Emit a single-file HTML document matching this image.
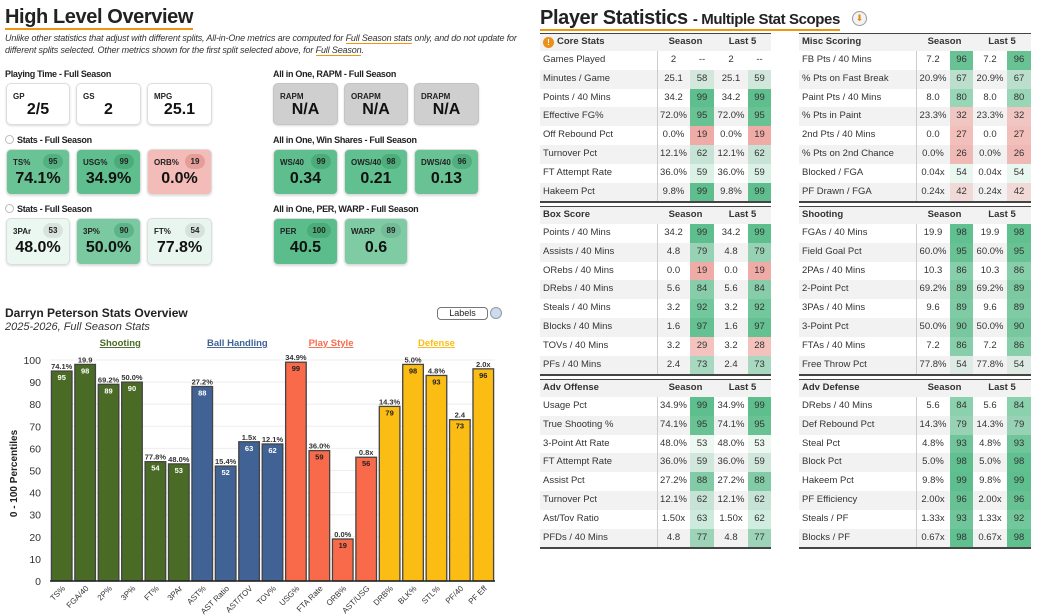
<!DOCTYPE html>
<html><head><meta charset="utf-8">
<style>
*{box-sizing:border-box;margin:0;padding:0}
body{width:1037px;height:615px;background:#fff;font-family:"Liberation Sans",sans-serif;color:#222;position:relative;overflow:hidden}
.abs{position:absolute}
.h1{font-size:20px;font-weight:bold;color:#222;letter-spacing:-0.4px}
.ul{border-bottom:2px solid #f0960e}
.note{font-size:9px;font-style:italic;color:#333;line-height:12px;letter-spacing:-0.15px}
.sec{font-size:9px;font-weight:bold;color:#222;letter-spacing:-0.3px}
.card{position:absolute;border:1px solid #ddd;border-radius:5px;box-shadow:0 1px 2px rgba(0,0,0,.15);background:#fff}
.card .lb{position:absolute;left:6px;top:8px;font-size:8px;font-weight:bold;color:#222}
.card .v{position:absolute;left:0;right:0;text-align:center;font-size:16px;font-weight:bold;color:#111}
.card .bd{position:absolute;right:6px;top:4px;width:20px;height:15px;border-radius:8px;font-size:8px;font-weight:bold;text-align:center;line-height:15px;color:#222}
.radio{display:inline-block;width:9px;height:9px;border:1px solid #bbb;border-radius:50%;vertical-align:-1px;margin-right:3px}
.tcell{position:absolute;font-size:9.5px;line-height:18.8px;color:#333;white-space:nowrap}
</style></head><body>
<div class="abs h1" style="left:5px;top:6px"><span class="ul">High Level Overview</span></div>
<div class="abs note" style="left:5px;top:32px;width:525px">Unlike other statistics that adjust with different splits, All-in-One metrics are computed for <span class="ul" style="border-width:1.5px">Full Season stats</span> only, and do not update for different splits selected. Other metrics shown for the first split selected above, for <span class="ul" style="border-width:1.5px">Full Season</span>.</div>

<div class="abs sec" style="left:5px;top:69px">Playing Time - Full Season</div>
<div class="abs sec" style="left:5px;top:135px"><span class="radio"></span>Stats - Full Season</div>
<div class="abs sec" style="left:5px;top:204px"><span class="radio"></span>Stats - Full Season</div>
<div class="abs sec" style="left:273px;top:69px">All in One, RAPM - Full Season</div>
<div class="abs sec" style="left:273px;top:135px">All in One, Win Shares - Full Season</div>
<div class="abs sec" style="left:273px;top:204px">All in One, PER, WARP - Full Season</div>
<div id="cards"></div>

<div class="abs h1" style="left:540px;top:7px"><span class="ul">Player Statistics <span style="font-size:15px">- Multiple Stat Scopes</span></span></div>
<div class="abs" style="left:852px;top:11px;width:15px;height:15px;border-radius:50%;border:1px solid #999;background:#f3f3f3;text-align:center;font-size:9px;line-height:13px;color:#e08a10">⬇</div>
<div id="tables"></div>

<div class="abs" style="left:5px;top:306px;font-size:12px;font-weight:bold">Darryn Peterson Stats Overview</div>
<div class="abs" style="left:5px;top:321px;font-size:11px;font-style:italic;color:#333">2025-2026, Full Season Stats</div>
<div class="abs" style="left:437px;top:307px;width:51px;height:13px;border:1px solid #777;border-radius:4px;font-size:9px;text-align:center;line-height:11px">Labels</div>
<div class="abs" style="left:490px;top:307px;width:12px;height:12px;border-radius:50%;border:1px solid #999;background:#c9dcf0"></div>
<svg class="abs" style="left:0;top:330px" width="520" height="285" id="chart"></svg>

<script>
function cardBg(p){
  if(p==null) return '#fff';
  if(p>=50){var a=(p-50)/50;return 'rgba(91,189,139,'+(0.06+0.94*a).toFixed(2)+')';}
  var a=(50-p)/50;return 'rgba(238,160,154,'+(0.2+0.8*a).toFixed(2)+')';
}
var cardsData=[
 [6,83,64,42,'GP','2/5',null,'gp-card'],[76,83,65,42,'GS','2',null,'gs-card'],[147,83,65,42,'MPG','25.1',null,'mpg-card'],
 [6,149,64,46,'TS%','74.1%',95,'ts-card'],[76,149,65,46,'USG%','34.9%',99,'usg-card'],[147,149,65,46,'ORB%','0.0%',19,'orb-card'],
 [6,218,64,47,'3PAr','48.0%',53,'3par-card'],[76,218,65,47,'3P%','50.0%',90,'3p-card'],[147,218,65,47,'FT%','77.8%',54,'ft-card'],
 [273,83,65,42,'RAPM','N/A','g','rapm-card'],[344,83,64,42,'ORAPM','N/A','g','orapm-card'],[414,83,65,42,'DRAPM','N/A','g','drapm-card'],
 [273,149,65,46,'WS/40','0.34',99,'ws40-card'],[344,149,64,46,'OWS/40','0.21',98,'ows40-card'],[414,149,65,46,'DWS/40','0.13',96,'dws40-card'],
 [273,218,65,47,'PER','40.5',100,'per-card'],[344,218,64,47,'WARP','0.6',89,'warp-card']
];
var cc=document.getElementById('cards');
cardsData.forEach(function(d){
  var c=document.createElement('div');c.className='card';
  
  
  c.style.left=d[0]+'px';c.style.top=d[1]+'px';c.style.width=d[2]+'px';c.style.height=d[3]+'px';
  var p=d[6];
  if(p==='g'){c.style.background='#cfcfcf';c.style.borderColor='#c4c4c4';}
  else c.style.background=cardBg(p);
  var big=d[3]>44;
  c.innerHTML='<div class="lb">'+d[4]+'</div><div class="v" style="top:'+(big?20:17)+'px">'+d[5]+'</div>';
  if(typeof p==='number'){
    var b=document.createElement('div');b.className='bd';b.textContent=p;
    
    
    b.style.background=p>=90?'rgba(40,140,90,0.35)':p<40?'rgba(200,100,95,0.35)':'rgba(0,0,0,0.08)';
    if(p==100)b.style.width='24px';
    c.appendChild(b);
  }
  cc.appendChild(c);
});

function pctBg(p){
  if(p>=50){var a=(p-50)/50;return 'rgba(91,189,139,'+(0.05+0.95*a).toFixed(2)+')';}
  var a=(50-p)/50;return 'rgba(238,166,160,'+(0.1+0.9*Math.min(1,a*1.5)).toFixed(2)+')';
}
var colsL=[540,657,690,714,748,771], colsR=[799,916,950,973,1007,1031];
var tables=[
 {x:colsL,y:33,t:'Core Stats',n:'core-stats-table',rows:[['Games Played','2','--','2','--'],['Minutes / Game','25.1',58,'25.1',59],['Points / 40 Mins','34.2',99,'34.2',99],['Effective FG%','72.0%',95,'72.0%',95],['Off Rebound Pct','0.0%',19,'0.0%',19],['Turnover Pct','12.1%',62,'12.1%',62],['FT Attempt Rate','36.0%',59,'36.0%',59],['Hakeem Pct','9.8%',99,'9.8%',99]]},
 {x:colsR,y:33,t:'Misc Scoring',n:'misc-scoring-table',rows:[['FB Pts / 40 Mins','7.2',96,'7.2',96],['% Pts on Fast Break','20.9%',67,'20.9%',67],['Paint Pts / 40 Mins','8.0',80,'8.0',80],['% Pts in Paint','23.3%',32,'23.3%',32],['2nd Pts / 40 Mins','0.0',27,'0.0',27],['% Pts on 2nd Chance','0.0%',26,'0.0%',26],['Blocked / FGA','0.04x',54,'0.04x',54],['PF Drawn / FGA','0.24x',42,'0.24x',42]]},
 {x:colsL,y:206,t:'Box Score',n:'box-score-table',rows:[['Points / 40 Mins','34.2',99,'34.2',99],['Assists / 40 Mins','4.8',79,'4.8',79],['ORebs / 40 Mins','0.0',19,'0.0',19],['DRebs / 40 Mins','5.6',84,'5.6',84],['Steals / 40 Mins','3.2',92,'3.2',92],['Blocks / 40 Mins','1.6',97,'1.6',97],['TOVs / 40 Mins','3.2',29,'3.2',28],['PFs / 40 Mins','2.4',73,'2.4',73]]},
 {x:colsR,y:206,t:'Shooting',n:'shooting-table',rows:[['FGAs / 40 Mins','19.9',98,'19.9',98],['Field Goal Pct','60.0%',95,'60.0%',95],['2PAs / 40 Mins','10.3',86,'10.3',86],['2-Point Pct','69.2%',89,'69.2%',89],['3PAs / 40 Mins','9.6',89,'9.6',89],['3-Point Pct','50.0%',90,'50.0%',90],['FTAs / 40 Mins','7.2',86,'7.2',86],['Free Throw Pct','77.8%',54,'77.8%',54]]},
 {x:colsL,y:379,t:'Adv Offense',n:'adv-offense-table',rows:[['Usage Pct','34.9%',99,'34.9%',99],['True Shooting %','74.1%',95,'74.1%',95],['3-Point Att Rate','48.0%',53,'48.0%',53],['FT Attempt Rate','36.0%',59,'36.0%',59],['Assist Pct','27.2%',88,'27.2%',88],['Turnover Pct','12.1%',62,'12.1%',62],['Ast/Tov Ratio','1.50x',63,'1.50x',62],['PFDs / 40 Mins','4.8',77,'4.8',77]]},
 {x:colsR,y:379,t:'Adv Defense',n:'adv-defense-table',rows:[['DRebs / 40 Mins','5.6',84,'5.6',84],['Def Rebound Pct','14.3%',79,'14.3%',79],['Steal Pct','4.8%',93,'4.8%',93],['Block Pct','5.0%',98,'5.0%',98],['Hakeem Pct','9.8%',99,'9.8%',99],['PF Efficiency','2.00x',96,'2.00x',96],['Steals / PF','1.33x',93,'1.33x',92],['Blocks / PF','0.67x',98,'0.67x',98]]}
];
var tc=document.getElementById('tables');
var RH=18.8,HH=18;
tables.forEach(function(T){
  var X=T.x,W=X[5]-X[0];
  var box=document.createElement('div');
  
  
  box.className='abs';box.style.left=X[0]+'px';box.style.top=T.y+'px';box.style.width=W+'px';
  box.style.height=(HH+8*RH+1)+'px';
  var h='<div class="abs" style="left:0;top:0;width:'+W+'px;height:'+HH+'px;background:#f2f2f2;border-top:1.5px solid #444"></div>';
  h+='<div class="abs" style="left:0;top:'+(HH+8*RH)+'px;width:'+W+'px;height:1.5px;background:#444"></div>';
  for(var i=0;i<8;i++){
    var r=T.rows[i],y=HH+i*RH;
    h+='<div class="abs" style="left:0;top:'+y+'px;width:'+W+'px;height:'+RH+'px;background:'+(i%2?'#f2f2f2':'#fff')+'"></div>';
    [2,4].forEach(function(k){ if(typeof r[k]==='number') h+='<div class="abs" style="left:'+(X[k]-X[0])+'px;top:'+y+'px;width:'+(X[k+1]-X[k])+'px;height:'+RH+'px;background:'+pctBg(r[k])+'"></div>';});
    h+='<div class="tcell" style="left:3px;top:'+y+'px">'+r[0]+'</div>';
    for(var k=1;k<5;k++) h+='<div class="tcell" style="left:'+(X[k]-X[0])+'px;top:'+y+'px;width:'+(X[k+1]-X[k])+'px;text-align:center">'+r[k]+'</div>';
  }
  h+='<div class="abs" style="left:'+(X[1]-X[0])+'px;top:'+HH+'px;width:1px;height:'+(8*RH)+'px;background:#ccc"></div>';
  var icon=T.t==='Core Stats'?'<span style="display:inline-block;width:11px;height:11px;border-radius:50%;background:#e8901a;color:#fff;font-size:8px;text-align:center;line-height:11px;margin-right:3px;vertical-align:-1px">!</span>':'';
  h+='<div class="tcell" style="left:3px;top:0;line-height:'+HH+'px;font-weight:bold;color:#333">'+icon+T.t+'</div>';
  h+='<div class="tcell" style="left:'+(X[1]-X[0])+'px;width:'+(X[3]-X[1])+'px;text-align:center;top:0;line-height:'+HH+'px;font-weight:bold">Season</div>';
  h+='<div class="tcell" style="left:'+(X[3]-X[0])+'px;width:'+(X[5]-X[3])+'px;text-align:center;top:0;line-height:'+HH+'px;font-weight:bold">Last 5</div>';
  box.innerHTML=h;tc.appendChild(box);
});
</script>
<script>
var categories=['TS%','FGA/40','2P%','3P%','FT%','3PAr','AST%','AST Ratio','AST/TOV','TOV%','USG%','FTA Rate','ORB%','AST/USG','DRB%','BLK%','STL%','PF/40','PF Eff'];
var percentiles=[95,98,89,90,54,53,88,52,63,62,99,59,19,56,79,98,93,73,96];
var rawValues=['74.1%','19.9','69.2%','50.0%','77.8%','48.0%','27.2%','15.4%','1.5x','12.1%','34.9%','36.0%','0.0%','0.8x','14.3%','5.0%','4.8%','2.4','2.0x'];
var groupNames=['Shooting','Ball Handling','Play Style','Defense'];
var groupSizes=[6,4,4,5];
var yTicks=[0,10,20,30,40,50,60,70,80,90,100];

var svg=document.getElementById('chart'),NS='http://www.w3.org/2000/svg';
var OY=330,x0=50,x1=495,yTop=360-OY,yBot=581-OY;
function yS(v){return yBot-(v/100)*(yBot-yTop);}
var step=(x1-x0)/categories.length,bw=step*0.88;
function xS(i){return x0+i*step+(step-bw)/2;}
function mk(tag,attrs,name){var e=document.createElementNS(NS,tag);for(var k in attrs)e.setAttribute(k,attrs[k]);
  
  
  svg.appendChild(e);return e;}
var colors=['#4a6b26','#416295','#f96a4a','#fbbd14'],txtCol=['#fff','#fff','#222','#222'],gColors=['#4a6b26','#416295','#f96a4a','#fbbd14'];
yTicks.forEach(function(t){
  mk('line',{x1:x0,x2:x1,y1:yS(t),y2:yS(t),stroke:'#eee','stroke-width':1},'gridline');
  var tx=mk('text',{x:x0-9,y:yS(t)+4,'text-anchor':'end','font-size':10.5,fill:'#333','font-family':'Liberation Sans'},'y-tick-label');tx.textContent=t;
});
var yt=mk('text',{x:17,y:(yTop+yBot)/2+3,'text-anchor':'middle','font-size':10,'font-weight':'bold',fill:'#222','font-family':'Liberation Sans',transform:'rotate(-90 17 '+((yTop+yBot)/2+3)+')'},'y-axis-title');yt.textContent='0 - 100 Percentiles';
var groupOf=[];groupSizes.forEach(function(s,g){for(var k=0;k<s;k++)groupOf.push(g);});
var acc=0;
groupSizes.forEach(function(s,g){
  var cx=x0+(acc+s/2)*step;acc+=s;
  var t=mk('text',{x:cx,y:16,'text-anchor':'middle','font-size':9.5,'font-weight':'bold',fill:gColors[g],'text-decoration':'underline','font-family':'Liberation Sans'},'group-label-'+g);t.textContent=groupNames[g];
});
categories.forEach(function(c,i){
  var g=groupOf[i],p=percentiles[i],x=xS(i),y=yS(p);
  mk('rect',{x:x,y:y,width:bw,height:yBot-y,fill:colors[g],stroke:'#444','stroke-width':1.3},'bar-'+c);
  var v=mk('text',{x:x+bw/2,y:y-2,'text-anchor':'middle','font-size':7.5,'font-weight':'bold',fill:'#333','font-family':'Liberation Sans'},'value-label');v.textContent=rawValues[i];
  var pt=mk('text',{x:x+bw/2,y:y+9,'text-anchor':'middle','font-size':7.5,'font-weight':'bold',fill:txtCol[g],'font-family':'Liberation Sans'},'percentile-label');pt.textContent=p;
  var lx=x+bw/2+4,ly=yBot+8;
  var xl=mk('text',{x:lx,y:ly,'text-anchor':'end','font-size':8,fill:'#333','font-family':'Liberation Sans',transform:'rotate(-45 '+lx+' '+ly+')'},'x-tick-label');xl.textContent=c;
});
mk('line',{x1:x0,x2:x1,y1:yBot,y2:yBot,stroke:'#222','stroke-width':1.5},'x-axis-line');
</script>
</body></html>
